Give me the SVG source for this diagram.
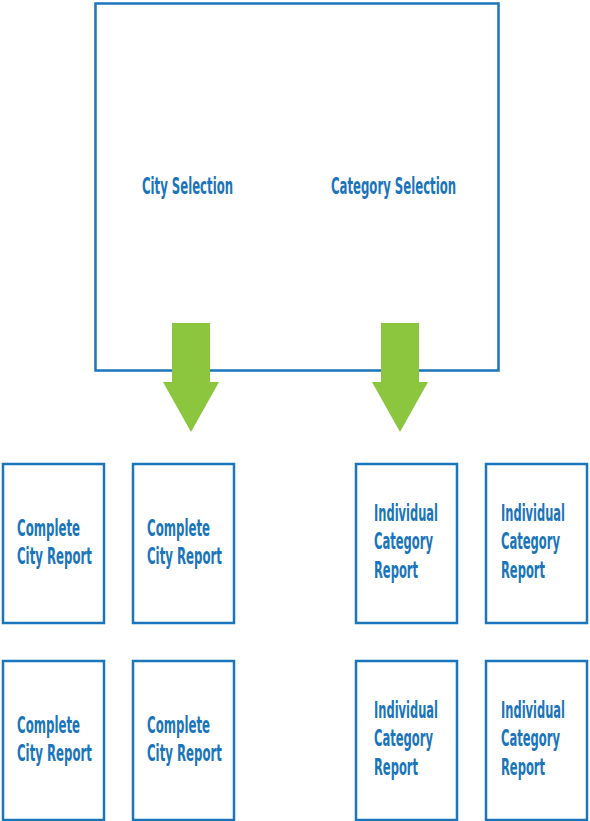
<svg xmlns="http://www.w3.org/2000/svg" width="590" height="821" viewBox="0 0 590 821">
  <style>
    .box { fill: #ffffff; stroke: #1b75bb; stroke-width: 2.5; }
    .lbl { fill: #1b75bb; font-family: "DejaVu Sans Condensed", "Liberation Sans Narrow", "Liberation Sans", sans-serif; font-weight: bold; font-size: 23px; }
    .arrow { fill: #8cc63f; }
  </style>
  <rect width="590" height="821" fill="#ffffff"/>

  <!-- labels are drawn narrow: glyphs squeezed horizontally by 0.7 -->
  <g id="selection">
    <rect class="box" x="95.5" y="3.5" width="403" height="367"/>
    <text class="lbl" transform="translate(142,194) scale(0.7,1)" textLength="130" lengthAdjust="spacingAndGlyphs">City Selection</text>
    <text class="lbl" transform="translate(331,194) scale(0.7,1)" textLength="178.6" lengthAdjust="spacingAndGlyphs">Category Selection</text>
  </g>

  <g id="connectors">
    <polygon class="arrow" points="172,323 210,323 210,382 219,382 191,432 163,382 172,382"/>
    <polygon class="arrow" points="381,323 419,323 419,382 428,382 400,432 372,382 381,382"/>
  </g>

  <g id="city-report-1">
    <rect class="box" x="3" y="464" width="101" height="159"/>
    <text class="lbl" transform="translate(17,536) scale(0.7,1)" textLength="90" lengthAdjust="spacingAndGlyphs">Complete</text>
    <text class="lbl" transform="translate(17,564) scale(0.7,1)" textLength="107" lengthAdjust="spacingAndGlyphs">City Report</text>
  </g>
  <g id="city-report-2">
    <rect class="box" x="133" y="464" width="101" height="159"/>
    <text class="lbl" transform="translate(147,536) scale(0.7,1)" textLength="90" lengthAdjust="spacingAndGlyphs">Complete</text>
    <text class="lbl" transform="translate(147,564) scale(0.7,1)" textLength="107" lengthAdjust="spacingAndGlyphs">City Report</text>
  </g>
  <g id="city-report-3">
    <rect class="box" x="3" y="661" width="101" height="159"/>
    <text class="lbl" transform="translate(17,733) scale(0.7,1)" textLength="90" lengthAdjust="spacingAndGlyphs">Complete</text>
    <text class="lbl" transform="translate(17,761) scale(0.7,1)" textLength="107" lengthAdjust="spacingAndGlyphs">City Report</text>
  </g>
  <g id="city-report-4">
    <rect class="box" x="133" y="661" width="101" height="159"/>
    <text class="lbl" transform="translate(147,733) scale(0.7,1)" textLength="90" lengthAdjust="spacingAndGlyphs">Complete</text>
    <text class="lbl" transform="translate(147,761) scale(0.7,1)" textLength="107" lengthAdjust="spacingAndGlyphs">City Report</text>
  </g>

  <g id="category-report-1">
    <rect class="box" x="356" y="464" width="101" height="159"/>
    <text class="lbl" transform="translate(374,521) scale(0.7,1)" textLength="91.4" lengthAdjust="spacingAndGlyphs">Individual</text>
    <text class="lbl" transform="translate(374,549) scale(0.7,1)" textLength="84.3" lengthAdjust="spacingAndGlyphs">Category</text>
    <text class="lbl" transform="translate(374,578) scale(0.7,1)" textLength="62.9" lengthAdjust="spacingAndGlyphs">Report</text>
  </g>
  <g id="category-report-2">
    <rect class="box" x="486" y="464" width="101" height="159"/>
    <text class="lbl" transform="translate(501,521) scale(0.7,1)" textLength="91.4" lengthAdjust="spacingAndGlyphs">Individual</text>
    <text class="lbl" transform="translate(501,549) scale(0.7,1)" textLength="84.3" lengthAdjust="spacingAndGlyphs">Category</text>
    <text class="lbl" transform="translate(501,578) scale(0.7,1)" textLength="62.9" lengthAdjust="spacingAndGlyphs">Report</text>
  </g>
  <g id="category-report-3">
    <rect class="box" x="356" y="661" width="101" height="159"/>
    <text class="lbl" transform="translate(374,718) scale(0.7,1)" textLength="91.4" lengthAdjust="spacingAndGlyphs">Individual</text>
    <text class="lbl" transform="translate(374,746) scale(0.7,1)" textLength="84.3" lengthAdjust="spacingAndGlyphs">Category</text>
    <text class="lbl" transform="translate(374,775) scale(0.7,1)" textLength="62.9" lengthAdjust="spacingAndGlyphs">Report</text>
  </g>
  <g id="category-report-4">
    <rect class="box" x="486" y="661" width="101" height="159"/>
    <text class="lbl" transform="translate(501,718) scale(0.7,1)" textLength="91.4" lengthAdjust="spacingAndGlyphs">Individual</text>
    <text class="lbl" transform="translate(501,746) scale(0.7,1)" textLength="84.3" lengthAdjust="spacingAndGlyphs">Category</text>
    <text class="lbl" transform="translate(501,775) scale(0.7,1)" textLength="62.9" lengthAdjust="spacingAndGlyphs">Report</text>
  </g>
</svg>
